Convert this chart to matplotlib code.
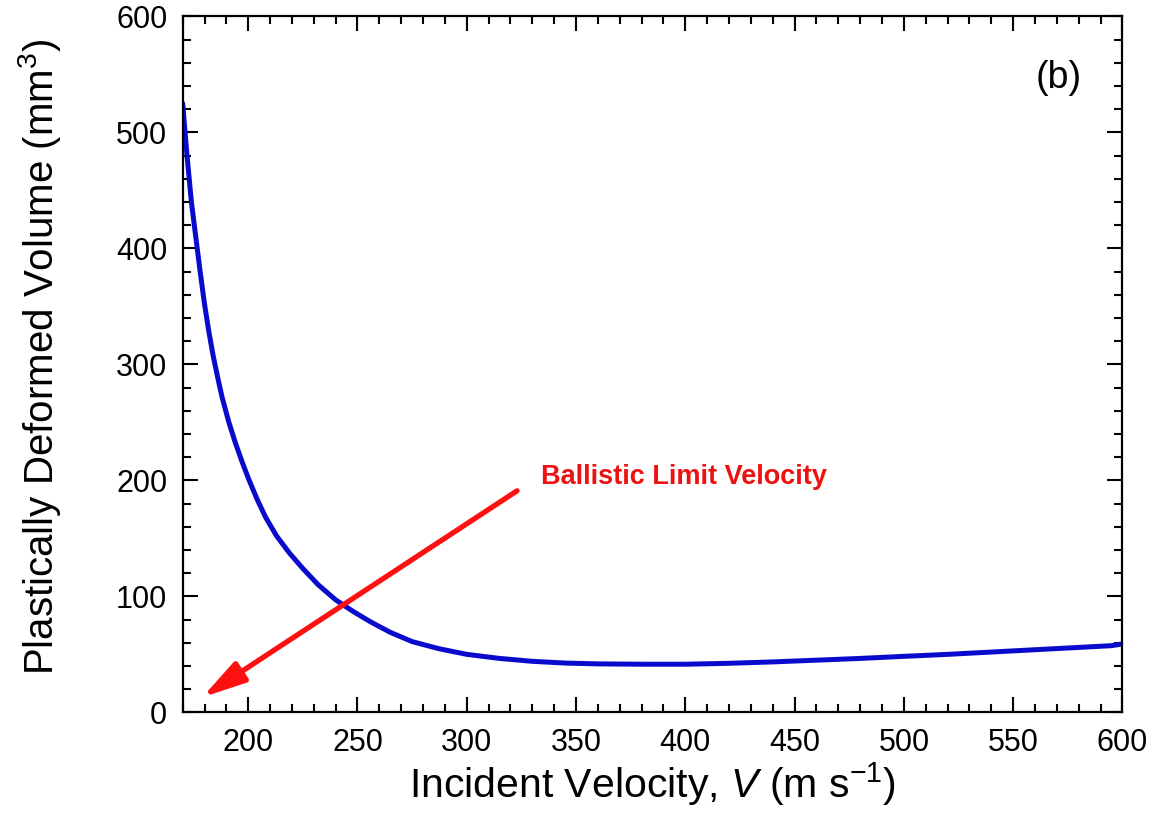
import numpy as np
import matplotlib
matplotlib.use('Agg')
from matplotlib import pyplot as plt
from matplotlib.ticker import MultipleLocator

plt.rcParams['font.family'] = ['Liberation Sans', 'DejaVu Sans']
plt.rcParams['mathtext.fontset'] = 'custom'
plt.rcParams['mathtext.rm'] = 'Liberation Sans'
plt.rcParams['mathtext.it'] = 'Liberation Sans:italic'

# values
velocity = [170, 172, 174, 176, 178, 180, 182, 184, 186, 188, 191, 194,
            197, 200, 204, 208, 213, 219, 225, 232, 240, 248, 256, 265,
            275, 287, 300, 315, 330, 345, 360, 380, 400, 420, 440, 460,
            480, 500, 520, 540, 560, 580, 595, 600]
volume = [525, 480, 440, 410, 380, 352, 328, 307, 289, 272, 251, 233,
          217, 202, 184, 168, 152, 137, 124, 110, 97, 87, 78, 69,
          61, 55, 50, 46.5, 44, 42.5, 41.8, 41.5, 41.5, 42.3, 43.5, 45,
          46.5, 48.3, 50, 52, 54, 56, 57.5, 59]

arrow_tail = (323, 191)
arrow_tip = (179, 13)
note_pos = (334, 203)
note_text = 'Ballistic Limit Velocity'

fig = plt.figure(figsize = (11.56, 8.16), dpi = 100)
ax = fig.add_axes([0.158, 0.127, 0.813, 0.853])

ax.plot(velocity, volume, color = '#0a0acc', linewidth = 3.6,
        solid_capstyle = 'round', solid_joinstyle = 'round')

ax.annotate(
    '', xy = arrow_tip, xytext = arrow_tail,
    arrowprops = dict(arrowstyle = '-|>,head_length=2.6,head_width=0.7',
                      color = '#ff1010', lw = 3.8, shrinkA = 0, shrinkB = 0)
)
ax.text(note_pos[0], note_pos[1], note_text, color = '#ee1111',
        fontsize = 19.5, fontweight = 'bold', va = 'center', ha = 'left')

ax.text(0.957, 0.911, '(b)', transform = ax.transAxes, fontsize = 27,
        ha = 'right', va = 'center')

ax.set_xlim(170, 600)
ax.set_ylim(0, 600)
ax.xaxis.set_major_locator(MultipleLocator(50))
ax.xaxis.set_minor_locator(MultipleLocator(10))
ax.yaxis.set_major_locator(MultipleLocator(100))
ax.yaxis.set_minor_locator(MultipleLocator(20))

ax.tick_params(which = 'both', direction = 'in', top = True, right = True,
               width = 1.5, labelsize = 22)
ax.tick_params(which = 'major', length = 11, pad = 11)
ax.tick_params(which = 'minor', length = 6)
for sp in ax.spines.values():
    sp.set_linewidth(1.6)

ax.set_xlabel('Incident Velocity, $V$ (m s$^{-1}$)', fontsize = 29.5,
              labelpad = 2)
ax.set_ylabel('Plastically Deformed Volume (mm$^3$)', fontsize = 29)
ax.yaxis.set_label_coords(-0.127, 0.51)

fig.savefig('out.png', dpi = 100)
